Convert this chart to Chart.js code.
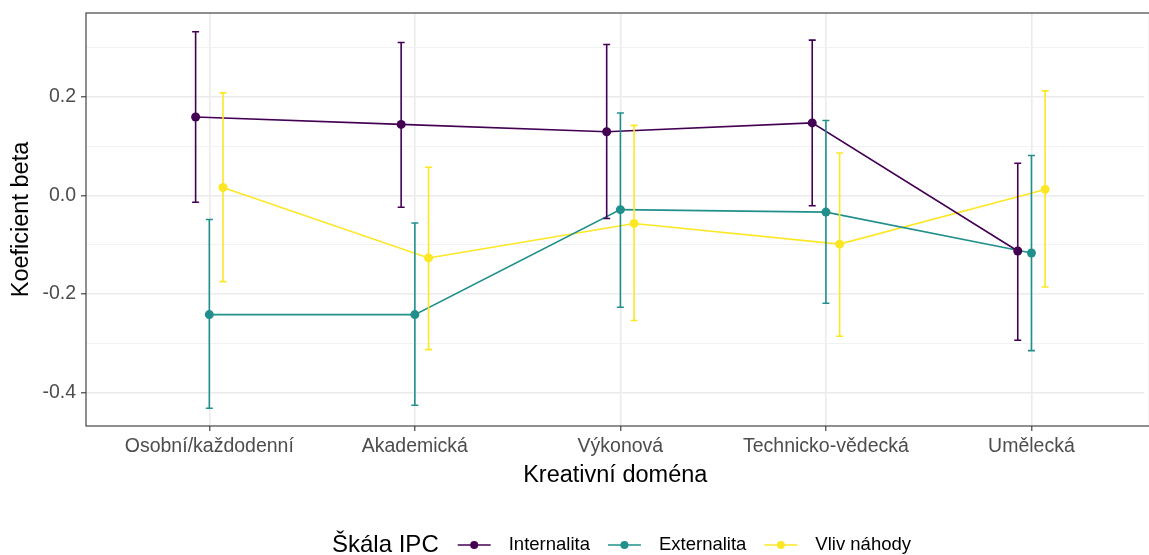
<!DOCTYPE html>
<html>
<head>
<meta charset="utf-8">
<script src="https://cdn.jsdelivr.net/npm/chart.js@4/dist/chart.umd.min.js"></script>
<style>
  html, body { margin: 0; padding: 0; background: #fff; }
  #wrap { width: 1149px; height: 555px; }
</style>
</head>
<body>
<div id="wrap"><canvas id="graf"></canvas></div>
<script>
// data
const domeny = ['Osobní/každodenní', 'Akademická', 'Výkonová', 'Technicko-vědecká', 'Umělecká'];
const yTicks = [-0.4, -0.3, -0.2, -0.1, 0, 0.1, 0.2, 0.3];

const internalita    = [0.159, 0.144, 0.129, 0.147, -0.113];
const internalitaLo  = [-0.014, -0.024, -0.047, -0.021, -0.294];
const internalitaHi  = [0.332, 0.310, 0.306, 0.315, 0.065];

const externalita    = [-0.242, -0.242, -0.029, -0.034, -0.117];
const externalitaLo  = [-0.432, -0.426, -0.227, -0.219, -0.315];
const externalitaHi  = [-0.049, -0.056, 0.167, 0.152, 0.081];

const vlivNahody     = [0.016, -0.127, -0.057, -0.099, 0.012];
const vlivNahodyLo   = [-0.175, -0.313, -0.254, -0.286, -0.186];
const vlivNahodyHi   = [0.208, 0.057, 0.142, 0.086, 0.212];

const barvy = ['#440154', '#21908C', '#FDE725'];
const dodge = 0.2 / 3;   // position_dodge(0.2)

function body(hodnoty, posun) {
    return hodnoty.map((v, i) => ({ x: i + posun, y: v }));
}

function sada(nazev, hodnoty, lo, hi, posun, barva) {
    return {
        label: nazev,
        data: body(hodnoty, posun),
        lo: lo,
        hi: hi,
        posun: posun,
        borderColor: barva,
        backgroundColor: barva,
        borderWidth: 1.6,
        pointRadius: 4.5,
        pointHoverRadius: 4.5,
        pointBorderWidth: 0,
        tension: 0
    };
}

// chybove useky
const errorBary = {
    id: 'errorBary',
    afterDatasetsDraw(chart) {
        const ctx = chart.ctx;
        const sx = chart.scales.x, sy = chart.scales.y;
        chart.data.datasets.forEach(ds => {
            ctx.save();
            ctx.strokeStyle = ds.borderColor;
            ctx.lineWidth = 1.6;
            ds.lo.forEach((lo, i) => {
                const x = sx.getPixelForValue(i + ds.posun);
                const y1 = sy.getPixelForValue(lo);
                const y2 = sy.getPixelForValue(ds.hi[i]);
                ctx.beginPath();
                ctx.moveTo(x, y1); ctx.lineTo(x, y2);
                ctx.moveTo(x - 3.5, y1); ctx.lineTo(x + 3.5, y1);
                ctx.moveTo(x - 3.5, y2); ctx.lineTo(x + 3.5, y2);
                ctx.stroke();
            });
            ctx.restore();
        });
    }
};

// ramecek panelu + legenda dole
const ramecek = {
    id: 'ramecek',
    afterDraw(chart) {
        const ctx = chart.ctx;
        const a = chart.chartArea;
        ctx.save();
        ctx.strokeStyle = '#333333';
        ctx.lineWidth = 1.1;
        ctx.strokeRect(a.left, a.top, a.right - a.left + 5, a.bottom - a.top);

        // legenda
        const y = 545;
        let x = 332;
        ctx.textBaseline = 'middle';
        ctx.textAlign = 'left';
        ctx.fillStyle = '#000';
        ctx.font = '24px "Liberation Sans", Arial, sans-serif';
        ctx.fillText('Škála IPC', x, y);
        x += ctx.measureText('Škála IPC').width + 19;
        ctx.font = '18.5px "Liberation Sans", Arial, sans-serif';
        chart.data.datasets.forEach(ds => {
            ctx.strokeStyle = ds.borderColor;
            ctx.fillStyle = ds.borderColor;
            ctx.lineWidth = 1.6;
            ctx.beginPath();
            ctx.moveTo(x, y); ctx.lineTo(x + 33, y);
            ctx.stroke();
            ctx.beginPath();
            ctx.arc(x + 16.5, y, 4, 0, Math.PI * 2);
            ctx.fill();
            x += 33 + 18;
            ctx.fillStyle = '#000';
            ctx.fillText(ds.label, x, y);
            x += ctx.measureText(ds.label).width + 18;
        });
        ctx.restore();
    }
};

const pismo = '"Liberation Sans", Arial, sans-serif';

new Chart(document.getElementById('graf'), {
    type: 'line',
    data: {
        datasets: [
            sada('Internalita', internalita, internalitaLo, internalitaHi, -dodge, barvy[0]),
            sada('Externalita', externalita, externalitaLo, externalitaHi, 0, barvy[1]),
            sada('Vliv náhody', vlivNahody, vlivNahodyLo, vlivNahodyHi, dodge, barvy[2])
        ]
    },
    options: {
        responsive: true,
        maintainAspectRatio: false,
        animation: false,
        events: [],
        layout: { padding: { top: 13, right: 0, bottom: 65, left: 0 } },
        plugins: {
            legend: { display: false },
            tooltip: { enabled: false }
        },
        scales: {
            x: {
                type: 'linear',
                min: -0.6,
                max: 4.55,
                afterBuildTicks: s => { s.ticks = domeny.map((d, i) => ({ value: i })); },
                afterFit: s => { s.height = 64; s.paddingLeft = 0; s.paddingRight = 0; },
                ticks: {
                    autoSkip: false,
                    maxRotation: 0,
                    padding: 4,
                    color: '#4D4D4D',
                    font: { family: pismo, size: 19.5 },
                    callback: v => domeny[v]
                },
                grid: {
                    color: '#EBEBEB',
                    lineWidth: 1.6,
                    tickLength: 5,
                    tickColor: '#333333',
                    tickWidth: 1.1
                },
                border: { display: false },
                title: {
                    display: true,
                    text: 'Kreativní doména',
                    color: '#000',
                    font: { family: pismo, size: 23.5 },
                    padding: { top: 0, bottom: 0 }
                }
            },
            y: {
                min: -0.468,
                max: 0.37,
                afterBuildTicks: s => { s.ticks = yTicks.map(v => ({ value: v })); },
                afterFit: s => { s.width = 86; s.paddingTop = 0; s.paddingBottom = 0; },
                ticks: {
                    padding: 5,
                    color: '#4D4D4D',
                    font: { family: pismo, size: 19.5 },
                    callback: v => (Math.round(v * 10) % 2 === 0 ? v.toFixed(1) : '')
                },
                grid: {
                    color: c => (Math.round(c.tick.value * 10) % 2 === 0 ? '#EBEBEB' : '#F2F2F2'),
                    lineWidth: c => (Math.round(c.tick.value * 10) % 2 === 0 ? 1.6 : 1),
                    tickLength: 5,
                    tickColor: c => (Math.round(c.tick.value * 10) % 2 === 0 ? '#333333' : 'rgba(0,0,0,0)'),
                    tickWidth: 1.1
                },
                border: { display: false },
                title: {
                    display: true,
                    text: 'Koeficient beta',
                    color: '#000',
                    font: { family: pismo, size: 23.5 },
                    padding: { top: 7, bottom: 0 }
                }
            }
        }
    },
    plugins: [errorBary, ramecek]
});
</script>
</body>
</html>
